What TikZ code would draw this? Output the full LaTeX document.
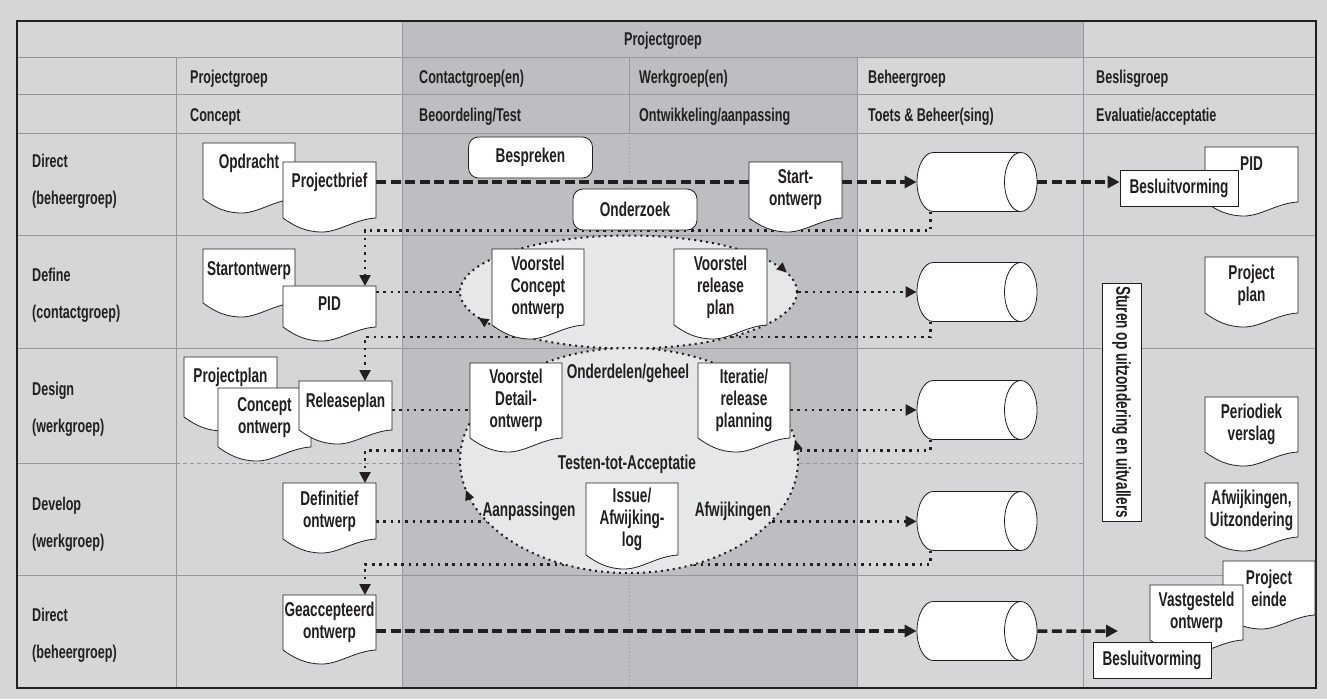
\documentclass[tikz,border=0pt]{standalone}
\usepackage{fontspec}
\setmainfont{Liberation Sans}[FakeStretch=0.68]
\usetikzlibrary{shapes.geometric, arrows.meta, decorations.markings}

\definecolor{paper}{RGB}{213,214,216}
\definecolor{darkband}{RGB}{189,190,193}
\definecolor{rulegray}{RGB}{150,151,154}
\definecolor{loopfill}{RGB}{230,231,232}
\definecolor{ink}{RGB}{35,31,32}

\newcommand{\hdrfont}{\fontsize{18.5}{37}\selectfont\bfseries}
\newcommand{\docfont}{\fontsize{20}{22}\selectfont\bfseries}

% document symbol: rectangle with a wavy bottom edge
\newdimen\docL \newdimen\docR \newdimen\docB \newdimen\docT \newdimen\docW
\makeatletter
\pgfdeclareshape{docshape}{
  \inheritsavedanchors[from=rectangle]
  \inheritanchorborder[from=rectangle]
  \inheritanchor[from=rectangle]{center}
  \inheritanchor[from=rectangle]{north}
  \inheritanchor[from=rectangle]{south}
  \inheritanchor[from=rectangle]{east}
  \inheritanchor[from=rectangle]{west}
  \inheritanchor[from=rectangle]{north east}
  \inheritanchor[from=rectangle]{north west}
  \inheritanchor[from=rectangle]{south east}
  \inheritanchor[from=rectangle]{south west}
  \inheritanchor[from=rectangle]{base}
  \inheritanchor[from=rectangle]{base west}
  \inheritanchor[from=rectangle]{base east}
  \inheritanchor[from=rectangle]{mid}
  \backgroundpath{
    \southwest \docL=\pgf@x \docB=\pgf@y
    \northeast \docR=\pgf@x \docT=\pgf@y
    \docW=\docR \advance\docW by -\docL
    \pgfpathmoveto{\pgfqpoint{\docL}{\docB}}
    \pgfpathlineto{\pgfqpoint{\docL}{\docT}}
    \pgfpathlineto{\pgfqpoint{\docR}{\docT}}
    \pgfpathlineto{\pgfqpoint{\docR}{\docB}}
    \pgfpathcurveto
      {\pgfpoint{\docR-0.22*\docW}{\docB-1pt}}
      {\pgfpoint{\docL+0.6*\docW}{\docB-14pt}}
      {\pgfpoint{\docL+0.42*\docW}{\docB-14pt}}
    \pgfpathcurveto
      {\pgfpoint{\docL+0.24*\docW}{\docB-14pt}}
      {\pgfpoint{\docL+0.12*\docW}{\docB-8pt}}
      {\pgfqpoint{\docL}{\docB}}
    \pgfpathclose
  }
}
\makeatother

\pgfdeclarelayer{back}
\pgfdeclarelayer{wires}
\pgfsetlayers{back,wires,main}

\begin{document}
\begin{tikzpicture}[x=1pt, y=-1pt]
	\tikzset{
		docnode/.style={docshape, draw=ink, fill=white, line width=0.8pt, anchor=north west, inner sep=1pt, outer sep=0pt, align=center, font=\docfont, text=ink},
		liftup/.style={text height=14pt, text depth=#1},
		boxnode/.style={rectangle, draw=ink, fill=white, line width=0.8pt, font=\docfont, text=ink, minimum width=118pt, minimum height=36pt, inner sep=1pt},
		talknode/.style={boxnode, rounded corners=10pt, minimum width=124pt, minimum height=41pt},
		storenode/.style={cylinder, draw=ink, fill=white, line width=0.8pt, minimum width=59pt, minimum height=120pt, shape aspect=0.56, inner sep=29pt, anchor=shape center},
		loopnode/.style={ellipse, draw=ink, fill=loopfill, line width=2pt, dash pattern=on 2pt off 4pt, inner sep=0pt},
		hdr/.style={anchor=base west, inner sep=0pt, font=\hdrfont, text=ink},
		rowlbl/.style={hdr, align=left},
		loose/.style={font=\docfont, text=ink, inner sep=0pt},
		gridline/.style={draw=rulegray, line width=1pt},
		bigflow/.style={draw=ink, line width=3.5pt, dash pattern=on 10pt off 4.5pt, >={Triangle[length=12pt,width=12pt]}},
		dotflow/.style={draw=ink, line width=2.5pt, dash pattern=on 2.5pt off 4.8pt, >={Triangle[length=11pt,width=11pt]}},
	}
	\useasboundingbox (0,0) rectangle (1327,699);

	% table
	\begin{pgfonlayer}{back}
		\fill[paper] (0,0) rectangle (1327,699);
		\fill[darkband] (402,21) rectangle (857,688);
		\fill[darkband] (857,21) rectangle (1083,57);
		\foreach \yy in {57,94,133,235,348,575}
			\draw[gridline] (17,\yy) -- (1316,\yy);
		\draw[gridline] (17,463) -- (176,463);
		\draw[gridline, dash pattern=on 4pt off 3pt] (176,463) -- (1083,463);
		\foreach \xx in {176,857}
			\draw[gridline] (\xx,57) -- (\xx,688);
		\foreach \xx in {402,1083}
			\draw[gridline] (\xx,21) -- (\xx,688);
		\draw[gridline] (629,57) -- (629,133);
		\draw[gridline, dash pattern=on 1pt off 2.5pt] (629,133) -- (629,688);
		\draw[ink, line width=1.3pt] (17,21) rectangle (1316,688);
	\end{pgfonlayer}

	% headers
	\node[hdr, anchor=base] (topgrp) at (663,45.5) {Projectgroep};
	\node[hdr] (hprj) at (190,83) {Projectgroep};
	\node[hdr] (hcon) at (419,83) {Contactgroep(en)};
	\node[hdr] (hwrk) at (639,83) {Werkgroep(en)};
	\node[hdr] (hbeh) at (868,83) {Beheergroep};
	\node[hdr] (hbes) at (1096,83) {Beslisgroep};
	\node[hdr] (tconc) at (190,121.5) {Concept};
	\node[hdr] (ttest) at (419,121.5) {Beoordeling/Test};
	\node[hdr] (tontw) at (639,121.5) {Ontwikkeling/aanpassing};
	\node[hdr] (ttoets) at (868,121.5) {Toets \& Beheer(sing)};
	\node[hdr] (teval) at (1096,121.5) {Evaluatie/acceptatie};

	\node[rowlbl] (rdirect) at (32,204) {Direct\\(beheergroep)};
	\node[rowlbl] (rdefine) at (32,318) {Define\\(contactgroep)};
	\node[rowlbl] (rdesign) at (32,432) {Design\\(werkgroep)};
	\node[rowlbl] (rdevelop) at (32,547) {Develop\\(werkgroep)};
	\node[rowlbl] (rclose) at (32,658) {Direct\\(beheergroep)};

	% cycles
	\node[loopnode, minimum width=337pt, minimum height=113pt,
		postaction={decorate, decoration={markings,
			mark=at position 0.03 with {\arrowreversed{Triangle[length=10pt,width=9pt]}},
			mark=at position 0.544 with {\arrowreversed{Triangle[length=10pt,width=9pt]}}}}]
		(upcycle) at (628.5,292) {};
	\node[loopnode, minimum width=338pt, minimum height=225pt,
		postaction={decorate, decoration={markings,
			mark=at position 0.023 with {\arrow{Triangle[length=10pt,width=9pt]}},
			mark=at position 0.534 with {\arrowreversed{Triangle[length=10pt,width=9pt]}}}}]
		(lowcycle) at (629,460.5) {};

	\node[loose] (parts) at (628,373) {Onderdelen/geheel};
	\node[loose] (testacc) at (627,464) {Testen-tot-Acceptatie};
	\node[loose] (adjust) at (529,511) {Aanpassingen};
	\node[loose] (deviate) at (733,511) {Afwijkingen};

	% stores
	\node[storenode] (store1) at (977,182) {};
	\node[storenode] (store2) at (977,292) {};
	\node[storenode] (store3) at (977,410) {};
	\node[storenode] (store4) at (977,521) {};
	\node[storenode] (store5) at (977,631) {};

	% documents
	\node[docnode, minimum width=92pt, minimum height=56pt, liftup=20pt] (opdr) at (203,143) {Opdracht};
	\node[docnode, minimum width=93pt, minimum height=56pt, liftup=20pt] (pbrief) at (283,162) {Projectbrief};
	\node[docnode, minimum width=93pt, minimum height=56pt] (startow) at (749,162) {Start-\\ontwerp};
	\node[docnode, minimum width=93pt, minimum height=55pt, liftup=23pt] (pidend) at (1205,147) {PID};
	\node[boxnode] (decide1) at (1179,188) {Besluitvorming};

	\node[talknode] (discuss) at (530.5,157.5) {Bespreken};
	\node[talknode] (research) at (635,209.5) {Onderzoek};

	\node[docnode, minimum width=92pt, minimum height=54pt, liftup=16pt] (startdoc) at (203,249) {Startontwerp};
	\node[docnode, minimum width=93pt, minimum height=41pt, liftup=7pt] (pid) at (283,286) {PID};
	\node[docnode, minimum width=92pt, minimum height=76pt] (vconc) at (492,249) {Voorstel\\Concept\\ontwerp};
	\node[docnode, minimum width=93pt, minimum height=76pt] (vrel) at (674,249) {Voorstel\\release\\plan};
	\node[docnode, minimum width=93pt, minimum height=56pt] (pplan) at (1205,257) {Project\\plan};

	\node[docnode, minimum width=93pt, minimum height=60pt, liftup=24pt] (projplan) at (184,357) {Projectplan};
	\node[docnode, minimum width=93pt, minimum height=59pt] (concow) at (218,388) {Concept\\ontwerp};
	\node[docnode, minimum width=93pt, minimum height=49pt, liftup=11pt] (relplan) at (299,381) {Releaseplan};
	\node[docnode, minimum width=92pt, minimum height=75pt] (vdetail) at (470,363) {Voorstel\\Detail-\\ontwerp};
	\node[docnode, minimum width=92pt, minimum height=75pt] (iterat) at (698,363) {Iteratie/\\release\\planning};
	\node[docnode, minimum width=93pt, minimum height=55pt] (pverslag) at (1205,397) {Periodiek\\verslag};

	\node[docnode, minimum width=93pt, minimum height=56pt] (defin) at (283,483) {Definitief\\ontwerp};
	\node[docnode, minimum width=92pt, minimum height=72pt] (issue) at (586,483) {Issue/\\Afwijking-\\log};
	\node[docnode, minimum width=93pt, minimum height=54pt] (afwuitz) at (1205,483) {Afwijkingen,\\Uitzondering};

	\node[docnode, minimum width=93pt, minimum height=55pt] (gacc) at (283,595) {Geaccepteerd\\ontwerp};
	\node[docnode, minimum width=92pt, minimum height=54pt] (pend) at (1223,561) {Project\\einde};
	\node[docnode, minimum width=93pt, minimum height=55pt] (vastg) at (1150,585) {Vastgesteld\\ontwerp};
	\node[boxnode] (decide2) at (1152,660) {Besluitvorming};

	\node[boxnode, rotate=-90, minimum width=238pt, minimum height=39pt] (steer) at (1121.5,402) {Sturen op uitzondering en uitvallers};

	\coordinate (endtip) at (1118,631);

	% flows
	\begin{pgfonlayer}{wires}
		\draw[bigflow] (pbrief.east |- store1) -- (startow.west |- store1);
		\draw[bigflow, ->] (startow.east |- store1) -- (store1.west);
		\draw[bigflow, ->] (store1.east) -- (store1.east -| decide1.west);
		\draw[dotflow, ->] ([xshift=-30pt]store1.south) -- ++(0,18.5) -| ([xshift=35.5pt]pid.north);

		\draw[dotflow] (pid.east |- upcycle) -- (upcycle.west);
		\draw[dotflow, ->] (upcycle.east) -- (store2.west);
		\draw[dotflow, ->] ([xshift=-30pt]store2.south) -- ++(0,15) -| ([xshift=19.5pt]relplan.north);

		\draw[dotflow] (relplan.east |- store3) -- (vdetail.west |- store3);
		\draw[dotflow, ->] (iterat.east |- store3) -- (store3.west);
		\draw[dotflow, ->] ([xshift=-30pt]store3.south) -- ++(0,10.5) -| ([xshift=35.5pt]defin.north);

		\draw[dotflow] (lowcycle.203 -| defin.east) -- (lowcycle.203);
		\draw[dotflow, ->] (lowcycle.337) -- (lowcycle.337 -| store4.west);
		\draw[dotflow, ->] ([xshift=-30pt]store4.south) -- ++(0,13.5) -| ([xshift=35.5pt]gacc.north);

		\draw[bigflow, ->] (gacc.east |- store5) -- (store5.west);
		\draw[bigflow, ->] (store5.east) -- (endtip);
	\end{pgfonlayer}
\end{tikzpicture}
\end{document}
